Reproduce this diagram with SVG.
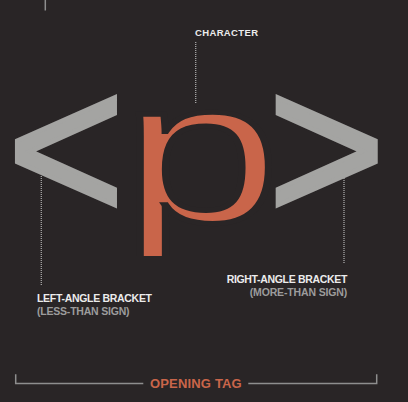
<svg xmlns="http://www.w3.org/2000/svg" width="408" height="402" viewBox="0 0 408 402">
  <defs>
    <style>
      .bg { fill: #292526; }
      .glyph { font-family: "Liberation Sans", Arial, sans-serif; font-size: 200px; stroke-linejoin: miter; stroke-miterlimit: 6; }
      .brk { fill: #a4a4a2; stroke: #a4a4a2; stroke-width: 4.4; }
      .pch { fill: #c9654a; stroke: #292526; stroke-width: 5; letter-spacing: -15px; }
      .lbl { font-family: "Liberation Sans", Arial, sans-serif; font-weight: bold; }
      .title { fill: #ececec; font-size: 10.5px; }
      .sub { fill: #9c9c9c; font-size: 10.5px; }
      .dot { stroke: #a8a8a8; stroke-width: 1.3; stroke-dasharray: 1 1; fill: none; }
      .rule { stroke: #8e8e8e; stroke-width: 1.5; fill: none; }
    </style>
    <clipPath id="pclip">
      <rect x="100" y="60" width="200" height="196"/>
    </clipPath>
  </defs>
  <rect class="bg" x="0" y="0" width="408" height="402"/>

  <g id="connectors">
    <line class="rule" x1="45.3" y1="0" x2="45.3" y2="10.5"/>
    <line class="dot" x1="195.7" y1="42" x2="195.7" y2="104"/>
    <line class="dot" x1="41.3" y1="176" x2="41.3" y2="285"/>
    <line class="dot" x1="344" y1="176" x2="344" y2="263"/>
    <polyline class="rule" points="15.7,374.3 15.7,383.6 143.3,383.6"/>
    <polyline class="rule" points="248.3,383.6 376.7,383.6 376.7,374.3"/>
  </g>

  <g id="left-bracket">
    <text class="glyph brk" transform="translate(7.27 220.6) scale(1.004 1.0546)" x="0" y="0">&lt;</text>
    <text class="lbl title" x="37" y="302" textLength="115" lengthAdjust="spacing">LEFT-ANGLE BRACKET</text>
    <text class="lbl sub" x="37" y="315" textLength="92.5" lengthAdjust="spacing">(LESS-THAN SIGN)</text>
  </g>

  <g id="character">
    <g clip-path="url(#pclip)">
      <text class="glyph pch" transform="translate(120.88 221.6) scale(1.435 1.017)" x="0" y="0">p</text>
    </g>
    <text class="lbl title" x="195" y="35.7" style="font-size:9.5px" textLength="63" lengthAdjust="spacing">CHARACTER</text>
  </g>

  <g id="right-bracket">
    <text class="glyph brk" transform="translate(267.97 220.6) scale(1.004 1.0546)" x="0" y="0">&gt;</text>
    <text class="lbl title" x="226.7" y="282.7" textLength="120.6" lengthAdjust="spacing">RIGHT-ANGLE BRACKET</text>
    <text class="lbl sub" x="249.7" y="296" textLength="97.6" lengthAdjust="spacing">(MORE-THAN SIGN)</text>
  </g>

  <g id="opening-tag">
    <text class="lbl" x="150" y="388.3" fill="#c9654a" style="font-size:13px" textLength="91.7" lengthAdjust="spacing">OPENING TAG</text>
  </g>
</svg>
